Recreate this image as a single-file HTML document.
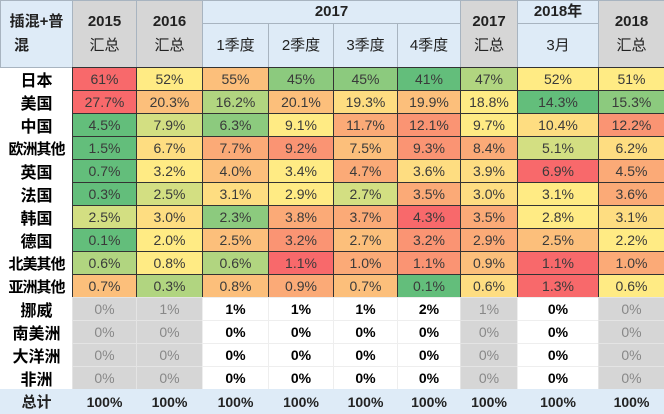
<!DOCTYPE html><html><head><meta charset="utf-8"><style>
body{margin:0;background:#fff;width:664px;height:414px;overflow:hidden;position:relative;font-family:"Liberation Sans","Noto Sans CJK SC",sans-serif}
.c{position:absolute;box-sizing:border-box;display:flex;align-items:center;justify-content:center;text-align:center;white-space:nowrap;overflow:hidden}
</style></head><body>
<script>
var X=[0,72,136,202,268,333,397,460,517,598,664];
var C={R:"#f8696b",OR:"#fa9473",O:"#fbaa77",LO:"#fcbf7b",Y:"#fedd81",YY:"#ffeb84",YG:"#d3df82",LG:"#b1d580",G:"#8cca7e",DG:"#63be7b"};
var out="";
function cell(x0,x1,y0,y1,txt,st){out+='<div class="c" style="left:'+X[x0]+'px;width:'+(X[x1]-X[x0]+1)+'px;top:'+y0+'px;height:'+(y1-y0+1)+'px;'+st+'">'+txt+'</div>';}
var hb="background:#deebf7;border:1px solid #a8b4c0;font-size:15px;color:#222;line-height:24px;";
var hg="background:#d6d6d6;border:1px solid #a8b4c0;font-size:15px;color:#222;line-height:24px;";
cell(0,1,0,67,"<div><b>插混+普</b><br><b style='margin-right:30px'>混</b></div>",hb);
cell(1,2,0,67,"<div><b>2015</b><br>汇总</div>",hg);
cell(2,3,0,67,"<div><b>2016</b><br>汇总</div>",hg);
cell(3,7,0,23,"<b>2017</b>",hb);
["1季度","2季度","3季度","4季度"].forEach(function(t,i){cell(3+i,4+i,23,67,t,hb);});
cell(7,8,0,67,"<div><b>2017</b><br>汇总</div>",hg);
cell(8,9,0,23,"<b>2018年</b>",hb);
cell(8,9,23,67,"3月",hb);
cell(9,10,0,67,"<div><b>2018</b><br>汇总</div>",hg);
var rows=[["日本","61%R","52%YY","55%LO","45%G","45%G","41%DG","47%LG","52%YY","51%YY"],
["美国","27.7%R","20.3%LO","16.2%LG","20.1%LO","19.3%Y","19.9%LO","18.8%YY","14.3%DG","15.3%G"],
["中国","4.5%DG","7.9%YG","6.3%G","9.1%YY","11.7%O","12.1%OR","9.7%YY","10.4%Y","12.2%OR"],
["欧洲其他","1.5%DG","6.7%Y","7.7%O","9.2%OR","7.5%LO","9.3%OR","8.4%O","5.1%YG","6.2%Y"],
["英国","0.7%DG","3.2%YY","4.0%LO","3.4%YY","4.7%O","3.6%Y","3.9%Y","6.9%R","4.5%O"],
["法国","0.3%DG","2.5%YG","3.1%Y","2.9%YY","2.7%YG","3.5%O","3.0%Y","3.1%YY","3.6%O"],
["韩国","2.5%YG","3.0%Y","2.3%G","3.8%O","3.7%O","4.3%R","3.5%O","2.8%YY","3.1%Y"],
["德国","0.1%DG","2.0%YY","2.5%LO","3.2%OR","2.7%LO","3.2%OR","2.9%O","2.5%LO","2.2%YY"],
["北美其他","0.6%LG","0.8%YY","0.6%LG","1.1%R","1.0%O","1.1%OR","0.9%LO","1.1%R","1.0%O"],
["亚洲其他","0.7%LO","0.3%LG","0.8%LO","0.9%O","0.7%LO","0.1%DG","0.6%Y","1.3%R","0.6%YY"]];
var lab="font-weight:bold;font-size:16px;color:#000;";
rows.forEach(function(r,j){var y=67+23*j;cell(0,1,y,y+23,r[0],lab+(r[0].length>3?"font-size:15px;letter-spacing:-1px;":""));
for(var i=1;i<10;i++){var m=r[i].match(/^([\d.]+%)(\w+)$/);cell(i,i+1,y,y+23,m[1],"background:"+C[m[2]]+";border:1px solid #333;font-size:14px;color:#3a3a3a;");}});
var gr=[["挪威","0%","1%","1%","1%","1%","2%","1%","0%","0%"],["南美洲","0%","0%","0%","0%","0%","0%","0%","0%","0%"],["大洋洲","0%","0%","0%","0%","0%","0%","0%","0%","0%"],["非洲","0%","0%","0%","0%","0%","0%","0%","0%","0%"]];
var gcol={1:1,2:1,7:1,9:1};
gr.forEach(function(r,j){var y=297+23*j;cell(0,1,y,y+23,r[0],lab);
for(var i=1;i<10;i++){cell(i,i+1,y,y+23,r[i],gcol[i]?"background:#d6d6d6;color:#888;font-size:14px;border:1px solid #e4e4e4;":"background:#fff;color:#000;font-weight:bold;font-size:14px;border:1px solid #eee;");}});
cell(0,10,389,413,"","background:#deebf7;");
for(var i=0;i<10;i++)cell(i,i+1,389,413,i?"100%":"总计","font-weight:bold;font-size:14px;color:#222;"+(i?"":"font-size:15px;"));
document.write(out);
</script>
</body></html>
